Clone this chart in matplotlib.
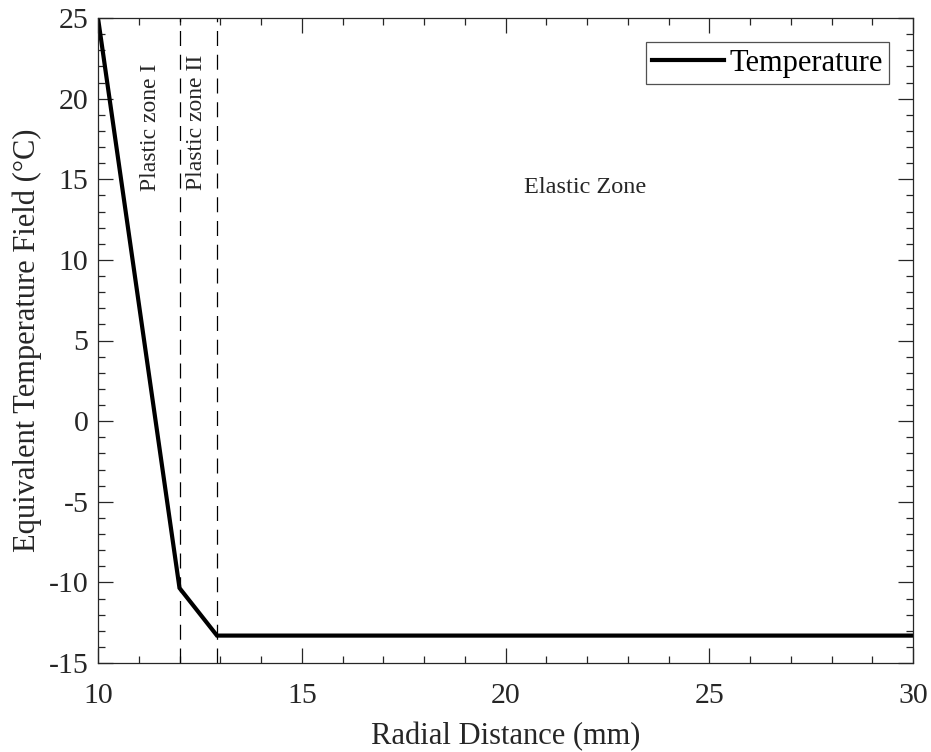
import matplotlib
matplotlib.use("Agg")
import matplotlib.pyplot as plt
from matplotlib.ticker import MultipleLocator

plt.rcParams['font.family'] = ['Liberation Serif', 'DejaVu Serif']
plt.rcParams['axes.unicode_minus'] = False

radial = [10, 12, 12.92, 30]
temperature = [25, -10.35, -13.3, -13.3]
zone_bounds = [12, 12.92]
zone_labels = ["Plastic zone I", "Plastic zone II", "Elastic Zone"]

TXT = '#262626'

fig = plt.figure(figsize=(9.31, 7.52), dpi=100)
ax = fig.add_axes([98/931, 1-663/752, 815/931, 645/752])

ax.plot(radial, temperature, color='black', lw=3.0, label='Temperature', solid_joinstyle='miter')
for xb in zone_bounds:
    ax.axvline(xb, color='black', lw=0.9, ls=(0, (12, 7)))

ax.text(11.28, 18.2, zone_labels[0], rotation=90, ha='center', va='center', fontsize=17, color=TXT)
ax.text(12.42, 18.5, zone_labels[1], rotation=90, ha='center', va='center', fontsize=17, color=TXT)
ax.text(21.95, 14.46, zone_labels[2], ha='center', va='center', fontsize=17.5, color=TXT)

ax.set_xlim(10, 30)
ax.set_ylim(-15, 25)
ax.xaxis.set_major_locator(MultipleLocator(5))
ax.xaxis.set_minor_locator(MultipleLocator(1))
ax.yaxis.set_major_locator(MultipleLocator(5))
ax.yaxis.set_minor_locator(MultipleLocator(1))
ax.tick_params(which='both', direction='in', top=True, right=True, labelsize=21.5,
               colors=TXT, width=0.9)
ax.tick_params(which='major', length=10.5)
ax.tick_params(which='minor', length=5)
ax.tick_params(axis='x', which='major', pad=14.5)
ax.tick_params(axis='y', which='major', pad=7)
for s in ax.spines.values():
    s.set_linewidth(0.9)
    s.set_color(TXT)

ax.set_xlabel('Radial Distance (mm)', fontsize=22, color=TXT, labelpad=9)
ax.set_ylabel('Equivalent Temperature Field (°C)', fontsize=22, color=TXT, labelpad=4.5)

leg = ax.legend(loc='upper right', fontsize=22, frameon=True, fancybox=False,
                edgecolor=TXT, handlelength=2.35, borderpad=0.2,
                borderaxespad=0.8, handletextpad=0.17)
leg.get_frame().set_linewidth(0.9)

fig.savefig('out.png', dpi=100)
